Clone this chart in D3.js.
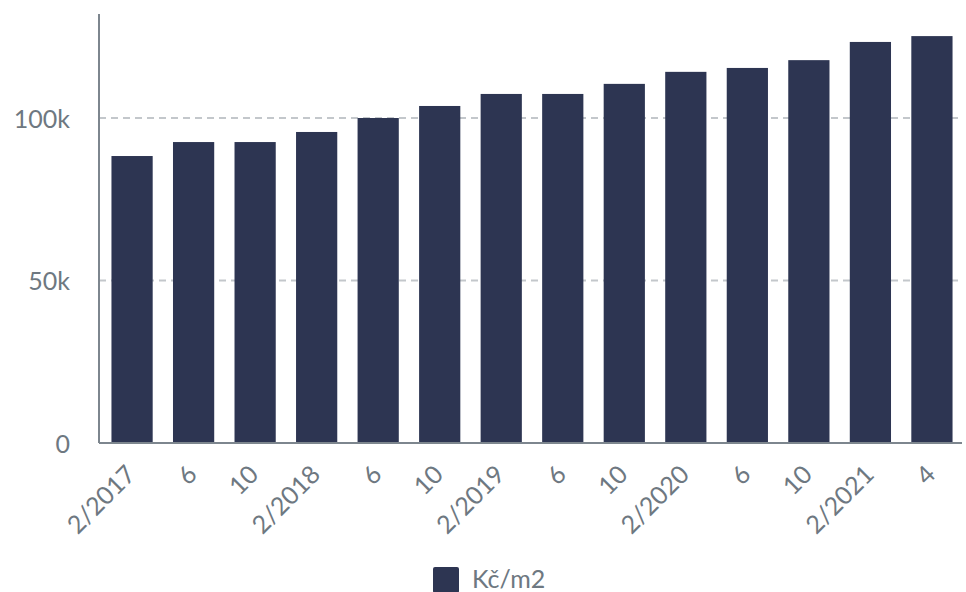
<!DOCTYPE html>
<html>
<head>
<meta charset="utf-8">
<script src="https://cdn.jsdelivr.net/npm/d3@7"></script>
<style>
  html, body { margin: 0; padding: 0; background: #ffffff; }
  svg { display: block; }
  text { font-family: Lato, "Open Sans", sans-serif; }
</style>
</head>
<body>
<svg id="chart" width="966" height="592"></svg>
<script>
// Average asking price per square metre, sampled every four months
const categories = ["2/2017", "6", "10", "2/2018", "6", "10", "2/2019", "6", "10", "2/2020", "6", "10", "2/2021", "4"];
const values = [88300, 92600, 92600, 95700, 100000, 103700, 107400, 107400, 110500, 114200, 115400, 117800, 123400, 125200];
const seriesName = "Kč/m2";
const yTicks = [0, 50000, 100000];
const yTickLabels = ["0", "50k", "100k"];
const yMax = 132000;

const barColor = "#2d3552";
const axisColor = "#7d868e";
const labelColor = "#6e7881";
const gridColor = "#c3c7cb";

const plot = { left: 99, right: 962, top: 14, bottom: 443 };

const svg = d3.select("#chart");

const x = d3.scaleBand()
  .domain(d3.range(categories.length))
  .range([plot.left + 2, plot.right + 1])
  .paddingInner(0.33)
  .paddingOuter(0.17);

const y = d3.scaleLinear()
  .domain([0, yMax])
  .range([plot.bottom, plot.top]);

// dashed horizontal gridlines (not at zero)
svg.append("g")
  .selectAll("line")
  .data(yTicks.filter(t => t > 0))
  .join("line")
  .attr("x1", plot.left)
  .attr("x2", plot.right)
  .attr("y1", d => y(d))
  .attr("y2", d => y(d))
  .attr("stroke", gridColor)
  .attr("stroke-width", 2)
  .attr("stroke-dasharray", "7,5");

// bars
svg.append("g")
  .selectAll("rect")
  .data(values)
  .join("rect")
  .attr("x", (d, i) => x(i))
  .attr("width", x.bandwidth())
  .attr("y", d => y(d))
  .attr("height", d => y(0) - y(d))
  .attr("fill", barColor);

// y axis
const yAxis = d3.axisLeft(y)
  .tickValues(yTicks)
  .tickFormat((d, i) => yTickLabels[i])
  .tickSize(0)
  .tickPadding(29);

const gy = svg.append("g")
  .attr("transform", `translate(${plot.left},0)`)
  .call(yAxis);
gy.select(".domain").remove();
gy.selectAll("text")
  .attr("fill", labelColor)
  .attr("font-size", 25)
  .attr("dy", "0.36em");

svg.append("line")
  .attr("x1", plot.left).attr("x2", plot.left)
  .attr("y1", plot.top).attr("y2", plot.bottom)
  .attr("stroke", axisColor).attr("stroke-width", 2);

// x axis
const xAxis = d3.axisBottom(x)
  .tickFormat(i => categories[i])
  .tickSize(0);

const gx = svg.append("g")
  .attr("transform", `translate(0,${plot.bottom})`)
  .call(xAxis);
gx.select(".domain").remove();
gx.selectAll(".tick text")
  .attr("fill", labelColor)
  .attr("font-size", 25)
  .attr("text-anchor", "end")
  .attr("x", null)
  .attr("y", null)
  .attr("dy", null)
  .attr("transform", "translate(5,33) rotate(-45)");

svg.append("line")
  .attr("x1", plot.left).attr("x2", plot.right)
  .attr("y1", plot.bottom).attr("y2", plot.bottom)
  .attr("stroke", axisColor).attr("stroke-width", 2);

// legend
const legend = svg.append("g").attr("transform", "translate(433,567)");
legend.append("rect")
  .attr("width", 26).attr("height", 26)
  .attr("rx", 2)
  .attr("fill", barColor);
legend.append("text")
  .attr("x", 39)
  .attr("y", 21)
  .attr("fill", labelColor)
  .attr("font-size", 25)
  .text(seriesName);
</script>
</body>
</html>
